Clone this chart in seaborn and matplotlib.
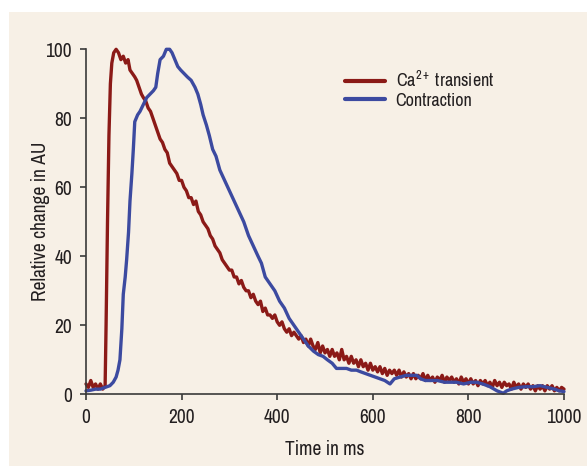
import seaborn as sns
import pandas as pd
import matplotlib.pyplot as plt
from matplotlib import font_manager

# Ca2+ transient (red trace)
ca_time = [0, 5, 10, 15, 20, 25, 30, 35, 40, 42, 45, 48, 51, 54, 58, 63, 68, 73, 78, 83,
           88, 92, 97, 102, 106, 111, 116, 120, 125, 130, 135, 140, 145, 150, 155, 160, 165, 170, 175, 180,
           185, 190, 195, 200, 205, 210, 215, 220, 225, 230, 235, 240, 245, 250, 255, 260, 265, 270, 275, 280,
           285, 290, 295, 300, 305, 310, 315, 320, 325, 330, 335, 340, 345, 350, 355, 360, 365, 370, 375, 380,
           385, 390, 395, 400, 405, 410, 415, 420, 425, 430, 435, 440, 445, 450, 455, 460, 465, 470, 475, 480,
           485, 490, 495, 500, 505, 510, 515, 520, 525, 530, 535, 540, 545, 550, 555, 560, 565, 570, 575, 580,
           585, 590, 595, 600, 605, 610, 615, 620, 625, 630, 635, 640, 645, 650, 655, 660, 665, 670, 675, 680,
           685, 690, 695, 700, 705, 710, 715, 720, 725, 730, 735, 740, 745, 750, 755, 760, 765, 770, 775, 780,
           785, 790, 795, 800, 805, 810, 815, 820, 825, 830, 835, 840, 845, 850, 855, 860, 865, 870, 875, 880,
           885, 890, 895, 900, 905, 910, 915, 920, 925, 930, 935, 940, 945, 950, 955, 960, 965, 970, 975, 980,
           985, 990, 995, 1000]
ca_value = [3, 2, 4, 2, 3, 1.5, 3, 1.5, 2.5, 20, 50, 75, 90, 96, 99, 100, 99, 97, 98, 96,
            97, 94, 93, 92, 91, 89, 87, 86, 85, 83, 82, 80, 78, 76, 74, 73, 71, 70, 67, 66,
            65, 64, 62, 62, 60, 59, 57, 57, 55, 56, 53, 52, 50, 49, 48, 46, 45, 43, 42, 41,
            39, 38, 37, 36, 36, 34, 34, 32, 33, 31, 30, 30, 28, 29, 27, 26, 27, 24, 25, 23,
            23, 22, 23, 21, 20, 21, 19, 18, 19, 17, 18, 17, 16, 17, 15, 16, 14, 16, 14, 13,
            15, 12, 14, 12, 13, 11, 13, 11, 12, 10, 13, 10, 11, 9, 11, 9, 10, 8, 10, 8,
            9, 7, 9, 7, 8, 6.5, 8, 6, 7.5, 5.5, 7, 6, 7, 5.5, 7, 5, 6.5, 5, 6, 4.5,
            6, 4.5, 5.5, 4.5, 6, 4, 5.5, 4, 5, 3.5, 5, 4, 5.5, 3.5, 5, 4, 5, 3.5, 4.5, 3,
            5, 3.5, 4.5, 3, 4.5, 3, 4, 2.5, 4, 3, 4, 2.5, 3.5, 2, 4, 2.5, 3.5, 2, 3.5, 2.5,
            3, 1.5, 3.5, 2, 3, 1.5, 3, 2, 3, 1.5, 2.5, 1, 2.5, 1.5, 2.5, 1, 2.5, 1.5, 2.5, 1,
            2, 1, 2, 1.5]

# Contraction (blue trace)
con_time = [0, 10, 20, 30, 40, 50, 57, 63, 67, 71, 75, 78, 82, 85, 89, 92, 96, 99, 102, 108,
            113, 120, 127, 134, 141, 146, 150, 155, 162, 168, 175, 180, 186, 192, 198, 205, 212, 220, 228, 234,
            240, 245, 252, 258, 265, 272, 280, 290, 300, 310, 320, 330, 340, 350, 360, 367, 375, 385, 395, 405,
            415, 425, 435, 445, 455, 465, 476, 486, 496, 505, 515, 524, 535, 545, 555, 566, 575, 585, 595, 605,
            615, 625, 636, 645, 657, 670, 680, 692, 700, 710, 720, 735, 750, 761, 775, 790, 805, 817, 830, 845,
            860, 873, 880, 890, 905, 920, 935, 950, 965, 980, 990, 1000]
con_value = [1, 1.2, 1.5, 1.5, 2, 2.5, 3.5, 5, 7, 10, 19, 29, 34, 39, 47, 56, 64, 71, 79, 81,
             82, 84, 86, 87, 88, 89, 93, 97, 98, 100, 100, 99, 97, 95, 94, 93, 92, 91, 89, 87,
             84, 81, 78, 75, 71, 69, 65, 62, 59, 56, 53, 50, 46, 43, 40, 38, 34, 32, 30, 27,
             25, 22, 20, 18, 16, 14, 12.5, 11.5, 11, 10, 9, 7.5, 7.5, 7.5, 7, 7, 6.5, 6, 5.5, 5,
             4.5, 4, 3, 4.5, 5, 5.5, 5.5, 5.5, 4.5, 4, 4, 4, 3.5, 3.5, 3.5, 3, 3.5, 3.5, 3, 2.2,
             1, 0.3, 1, 1.5, 2, 2.2, 2.2, 2.5, 2, 1.5, 1, 0.8]

ca_label = 'Ca$^{2+}$ transient'
con_label = 'Contraction'

df = pd.concat([
    pd.DataFrame({'time': ca_time, 'value': ca_value, 'series': ca_label}),
    pd.DataFrame({'time': con_time, 'value': con_value, 'series': con_label}),
])

bg = '#f7f0e6'
ink = '#231f20'

# look for a narrow face; otherwise use condensed DejaVu if it is there
narrow = None
for f in font_manager.fontManager.ttflist:
    if 'Narrow' in f.name or 'Condensed' in f.name:
        narrow = f.name
        break
if narrow is None:
    narrow = 'DejaVu Sans'

sns.set_style('ticks')
plt.rcParams['font.family'] = [narrow, 'DejaVu Sans']
plt.rcParams['font.stretch'] = 'condensed'
plt.rcParams['mathtext.fontset'] = 'custom'
plt.rcParams['mathtext.rm'] = narrow
plt.rcParams['mathtext.it'] = narrow
plt.rcParams['mathtext.bf'] = narrow

fig = plt.figure(figsize=(5.87, 4.66), dpi=100, facecolor='white')
fig.patches.append(plt.Rectangle((9 / 587, 0), 1, 1 - 12 / 466, transform=fig.transFigure,
                                 facecolor=bg, edgecolor='none', zorder=-10))
ax = fig.add_axes([86 / 587, 1 - 394.3 / 466, 478 / 587, 345 / 466])
ax.set_facecolor(bg)

sns.lineplot(data=df, x='time', y='value', hue='series', hue_order=[ca_label, con_label],
             palette={ca_label: '#8b1a17', con_label: '#3c4aa0'}, estimator=None, sort=False,
             linewidth=2.4, ax=ax, clip_on=False)

ax.set_xlim(0, 1000)
ax.set_ylim(0, 100)
ax.set_xticks([0, 200, 400, 600, 800, 1000])
ax.set_yticks([0, 20, 40, 60, 80, 100])
sns.despine(ax=ax)
for s in ['left', 'bottom']:
    ax.spines[s].set_color('#3a3a3a')
    ax.spines[s].set_linewidth(1.2)
ax.tick_params(colors='#3a3a3a', labelcolor=ink, labelsize=14, length=4, width=1.2, pad=6)
ax.set_xlabel('Time in ms', fontsize=14, color=ink, labelpad=9)
ax.set_ylabel('Relative change in AU', fontsize=14, color=ink)
ax.yaxis.set_label_coords(-0.076, 0.5)

leg = ax.legend(loc='upper left', bbox_to_anchor=(345 / 587, 1 - 70 / 466),
                bbox_transform=fig.transFigure, frameon=False, fontsize=13,
                handlelength=2.2, handletextpad=0.6, labelspacing=0.15,
                borderpad=0, borderaxespad=0)
for t in leg.get_texts():
    t.set_color(ink)
for h in leg.get_lines():
    h.set_linewidth(3)

fig.savefig('out.png', dpi=100, facecolor='white')
